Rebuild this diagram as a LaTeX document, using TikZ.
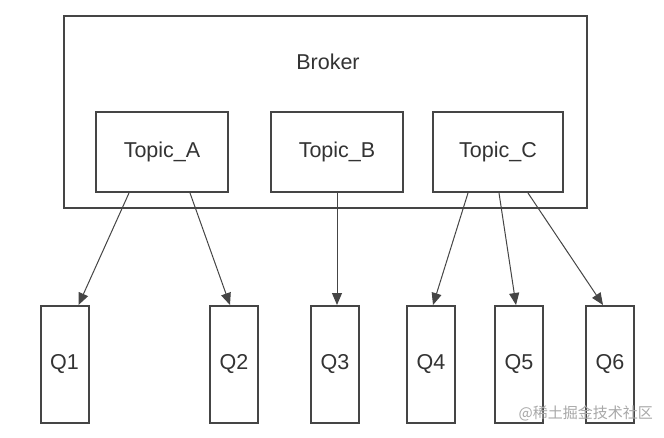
\documentclass[tikz,border=0pt]{standalone}
\usepackage{fontspec}
\setmainfont{Liberation Sans}
\newfontfamily\cjkfont{Noto Sans CJK SC}
\usetikzlibrary{arrows.meta}
\definecolor{boxline}{HTML}{454545}
\definecolor{arrline}{HTML}{454545}
\definecolor{txt}{HTML}{333333}
\definecolor{wm}{HTML}{A8A8A8}
\tikzset{
  box/.style={draw=boxline, line width=2pt, fill=white, inner sep=0pt},
  lbl/.style={text=txt, font=\fontsize{21.5}{25}\selectfont, inner sep=0pt},
  topicbox/.style={box, minimum height=80pt, text=txt, font=\fontsize{21.5}{25}\selectfont},
  qbox/.style={box, minimum width=48pt, minimum height=117pt, text=txt, font=\fontsize{21.5}{25}\selectfont},
  conn/.style={draw=arrline, line width=1pt, -{Triangle[length=12pt,width=10pt]}}
}
\begin{document}
\begin{tikzpicture}[x=1pt,y=-1pt]
\useasboundingbox[fill=white] (0,0) rectangle (664,437);
\node[box, minimum width=523pt, minimum height=192pt] (broker) at (325.5,112) {};
\node[lbl] (brokerlbl) at (328,62) {Broker};
\node[topicbox, minimum width=132pt] (ta) at (162,152) {Topic\_A};
\node[topicbox, minimum width=132pt] (tb) at (337,152) {Topic\_B};
\node[topicbox, minimum width=130pt] (tc) at (498,152) {Topic\_C};
\node[qbox] (q1) at (64.5,364.5) {Q1};
\node[qbox] (q2) at (234,364.5) {Q2};
\node[qbox] (q3) at (335,364.5) {Q3};
\node[qbox] (q4) at (431,364.5) {Q4};
\node[qbox] (q5) at (519,364.5) {Q5};
\node[qbox] (q6) at (610,364.5) {Q6};
\draw[conn] ([xshift=-33pt]ta.south) -- ([xshift=14pt]q1.north);
\draw[conn] ([xshift=28pt]ta.south) -- ([xshift=-4pt]q2.north);
\draw[conn] (tb.south) -- (tb.south |- q3.north);
\draw[conn] ([xshift=-30pt]tc.south) -- ([xshift=2pt]q4.north);
\draw[conn] ([xshift=1pt]tc.south) -- ([xshift=-3pt]q5.north);
\draw[conn] ([xshift=30pt]tc.south) -- ([xshift=-7pt]q6.north);
\node[text=wm, font=\cjkfont\fontsize{15}{18}\selectfont, inner sep=0pt, anchor=east] (wmark) at (653,413) {@稀土掘金技术社区};
\end{tikzpicture}
\end{document}
